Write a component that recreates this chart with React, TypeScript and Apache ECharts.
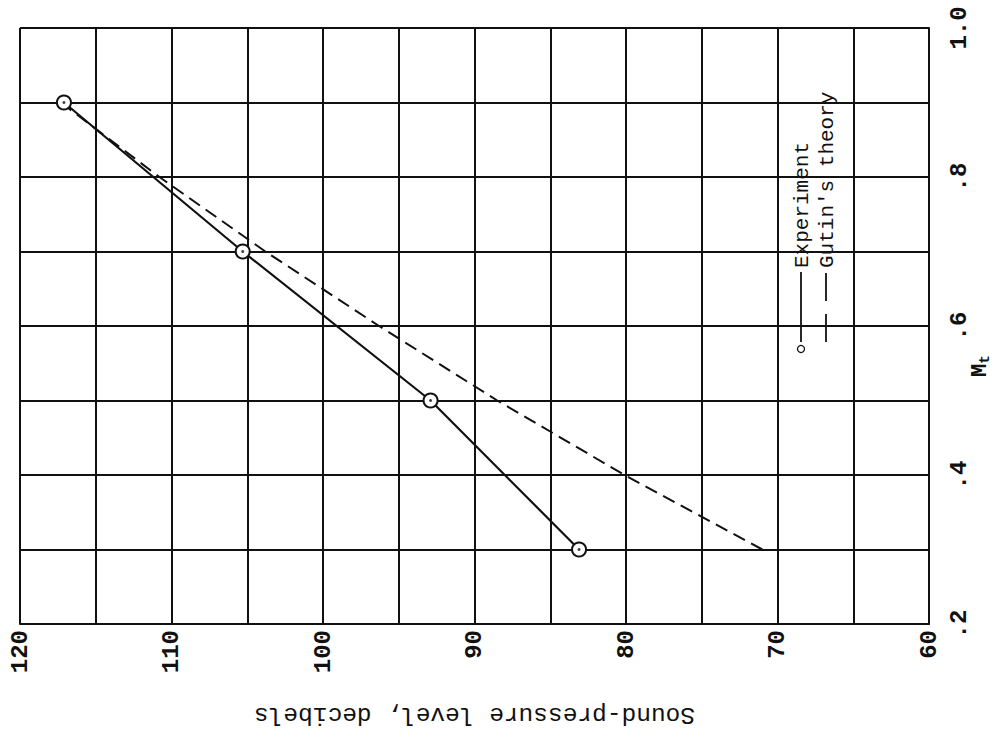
import React, { useEffect, useRef } from "react";
import * as echarts from "echarts";

// Experiment (Mt vs sound-pressure level, dB)
const expMt = [0.9, 0.7, 0.5, 0.3];
const expDb = [117.1, 105.3, 92.9, 83.1];

// Gutin's theory
const gutinMt = [0.9, 0.8, 0.7, 0.6, 0.5, 0.4, 0.3];
const gutinDb = [117.3, 110.8, 103.8, 96.3, 88.5, 80.1, 71.0];

const dbTicks = [120, 110, 100, 90, 80, 70, 60];
const mtTicks = [".2", ".4", ".6", ".8", "1.0"];

const xName = "Sound-pressure level, decibels";
const seriesNames = ["Experiment", "Gutin's theory"];

const MONO = "'Liberation Mono', 'DejaVu Sans Mono', monospace";
const INK = "#111111";

export default function App() {
  const ref = useRef<HTMLDivElement>(null);

  useEffect(() => {
    if (!ref.current) return;
    const chart = echarts.init(ref.current, null, { renderer: "svg" });

    const expData = expMt.map((m, i) => [expDb[i], m]);
    const gutinData = gutinMt.map((m, i) => [gutinDb[i], m]);

    const option: any = {
      animation: false,
      backgroundColor: "#ffffff",
      grid: { left: 20, top: 28, right: 68, bottom: 101, containLabel: false },
      xAxis: {
        type: "value",
        min: 60,
        max: 120,
        interval: 5,
        inverse: true,
        position: "bottom",
        axisLine: { show: true, lineStyle: { color: INK, width: 2 } },
        axisTick: { show: false },
        axisLabel: {
          rotate: 90,
          margin: 6,
          color: INK,
          fontFamily: MONO,
          fontWeight: "bold",
          fontSize: 24,
          formatter: (v: number) => {
            const r = Math.round(v);
            return dbTicks.indexOf(r) >= 0 ? String(r) : "";
          },
        },
        splitLine: { show: true, lineStyle: { color: INK, width: 2 } },
        name: xName,
        nameLocation: "middle",
        nameGap: 78,
        nameRotate: 180,
        nameTextStyle: { color: INK, fontFamily: MONO, fontSize: 24.5 },
      },
      yAxis: {
        type: "value",
        min: 0.2,
        max: 1.0,
        interval: 0.1,
        position: "right",
        axisLine: { show: true, lineStyle: { color: INK, width: 2 } },
        axisTick: { show: false },
        axisLabel: {
          rotate: 90,
          margin: 18,
          color: INK,
          fontFamily: MONO,
          fontWeight: "bold",
          fontSize: 24,
          formatter: (v: number) => {
            const k = Math.round(v * 10);
            if (k % 2 !== 0) return "";
            const idx = (k - 2) / 2;
            return mtTicks[idx] ?? "";
          },
        },
        splitLine: { show: true, lineStyle: { color: INK, width: 2 } },
      },
      series: [
        {
          name: seriesNames[1],
          type: "line",
          data: gutinData,
          symbol: "none",
          z: 2,
          lineStyle: { color: INK, width: 2, type: [13, 7] },
        },
        {
          name: seriesNames[0],
          type: "line",
          data: expData,
          symbol: "circle",
          symbolSize: 14,
          z: 3,
          itemStyle: { color: "#ffffff", borderColor: INK, borderWidth: 2 },
          lineStyle: { color: INK, width: 2.2 },
        },
        {
          name: "dots",
          type: "scatter",
          data: expData,
          symbol: "circle",
          symbolSize: 3,
          z: 4,
          silent: true,
          itemStyle: { color: INK },
        },
      ],
      graphic: [
        {
          type: "circle",
          shape: { cx: 801, cy: 349, r: 3.5 },
          style: { fill: "#fff", stroke: INK, lineWidth: 1.3 },
        },
        {
          type: "line",
          shape: { x1: 801, y1: 342, x2: 801, y2: 272 },
          style: { stroke: INK, lineWidth: 1.8 },
        },
        {
          type: "text",
          x: 802,
          y: 268,
          rotation: Math.PI / 2,
          style: {
            text: seriesNames[0],
            fill: INK,
            font: `21px ${MONO}`,
            align: "left",
            verticalAlign: "middle",
          },
        },
        {
          type: "line",
          shape: { x1: 826, y1: 342, x2: 826, y2: 272 },
          style: { stroke: INK, lineWidth: 1.8, lineDash: [28, 13] },
        },
        {
          type: "text",
          x: 827,
          y: 268,
          rotation: Math.PI / 2,
          style: {
            text: seriesNames[1],
            fill: INK,
            font: `21px ${MONO}`,
            align: "left",
            verticalAlign: "middle",
          },
        },
        {
          type: "text",
          x: 980,
          y: 366,
          rotation: Math.PI / 2,
          style: {
            text: "{m|M}{t|t}",
            align: "center",
            verticalAlign: "middle",
            rich: {
              m: { fontFamily: MONO, fontSize: 22, fontWeight: "bold", fill: INK, color: INK },
              t: { fontFamily: MONO, fontSize: 15, fontWeight: "bold", fill: INK, color: INK, verticalAlign: "bottom", padding: [10, 0, 0, 0] },
            },
          },
        },
      ],
    };

    chart.setOption(option);
    return () => chart.dispose();
  }, []);

  return (
    <div
      ref={ref}
      style={{ position: "fixed", left: 0, top: 0, width: 997, height: 732, background: "#fff" }}
    />
  );
}
